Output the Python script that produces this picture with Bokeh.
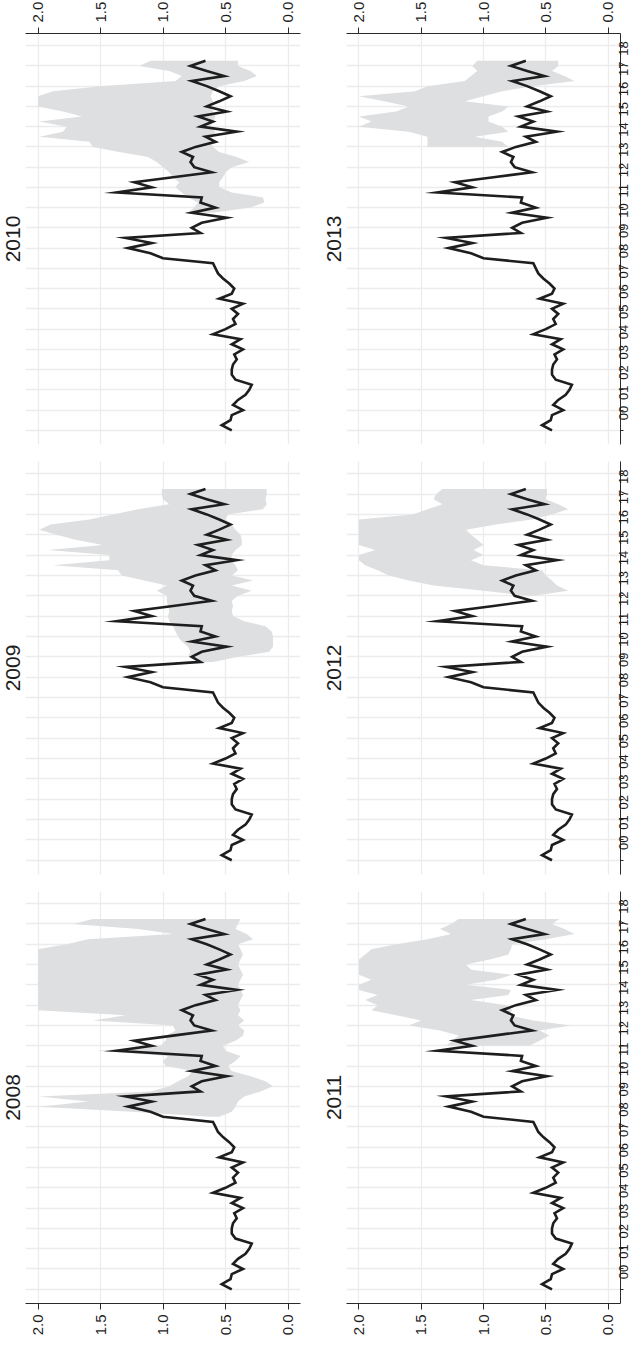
import math
from bokeh.plotting import figure
from bokeh.models import FixedTicker, LinearAxis, Range1d, PrintfTickFormatter, CustomJSTickFormatter
from bokeh.layouts import column, row
from bokeh.embed import file_html
from bokeh.resources import INLINE

# ---------------- data ----------------
line_start = 2000.0
line_values = [
    0.45, 0.53, 0.46, 0.45,
    0.36, 0.44, 0.40, 0.34,
    0.31, 0.29, 0.42, 0.45,
    0.45, 0.44, 0.41, 0.43,
    0.36, 0.45, 0.38, 0.60,
    0.50, 0.42, 0.44, 0.40,
    0.45, 0.36, 0.55, 0.45,
    0.43, 0.47, 0.52, 0.56,
    0.58, 0.60, 1.00, 1.10,
    1.28, 1.09, 1.30, 0.70,
    0.77, 0.69, 0.49, 0.77,
    0.58, 0.70, 0.69, 1.37,
    1.09, 1.23, 0.92, 0.61,
    0.75, 0.78, 0.76, 0.85,
    0.74, 0.58, 0.66, 0.41,
    0.70, 0.60, 0.72, 0.49,
    0.65, 0.55, 0.46, 0.55,
    0.65, 0.77, 0.51, 0.65,
    0.78, 0.66,
]

panel_titles = ["2008", "2009", "2010", "2011", "2012", "2013"]
band_start = {"2008": 2008.5, "2009": 2009.75, "2010": 2010.75,
              "2011": 2012.0, "2012": 2013.0, "2013": 2014.0}

band_hi = {
    "2008": [0.62, 1.25, 1.99, 1.60, 1.99, 1.10, 0.95, 0.88, 0.80, 0.76,
             0.98, 1.00, 0.96, 1.53, 1.02, 0.98, 0.97, 0.90, 0.92, 1.56,
             1.30, 2.00, 2.00, 2.00, 2.00, 2.00, 2.00, 2.00, 2.00, 2.00,
             2.00, 2.00, 2.00, 2.00, 1.77, 1.60, 0.92, 1.20, 1.72, 1.56],
    "2009": [0.72, 0.80, 0.78, 0.80, 0.85, 0.88, 0.90, 0.92, 0.95, 0.96,
             0.95, 0.96, 0.97, 0.97, 1.05, 0.97, 1.15, 1.33, 1.36, 1.88,
             1.43, 1.43, 1.92, 1.48, 1.70, 1.85, 1.99, 1.90, 1.59, 1.40,
             1.20, 0.95, 1.00, 1.01, 1.01],
    "2010": [0.80, 0.75, 0.72, 0.80, 0.85, 0.90, 0.87, 0.92, 0.95, 1.00,
             1.05, 1.12, 1.35, 1.56, 1.59, 1.99, 1.80, 1.77, 1.99, 1.65,
             1.80, 2.00, 2.00, 2.00, 1.88, 1.50, 0.90, 0.85, 0.95, 1.19,
             1.10],
    "2011": [1.30, 1.25, 1.20, 1.35, 1.60, 1.50, 1.70, 1.90, 1.85, 1.95,
             1.85, 2.00, 2.00, 1.90, 2.00, 2.00, 2.00, 2.00, 1.95, 1.90,
             1.70, 1.45, 1.26, 1.35, 1.26, 1.20],
    "2012": [0.65, 1.00, 1.40, 1.60, 1.76, 1.85, 1.95, 2.00, 2.00, 1.87,
             2.00, 2.00, 2.00, 2.00, 2.00, 2.00, 1.57, 1.45, 1.33, 1.40,
             1.38, 1.33],
    "2013": [1.45, 1.45, 1.45, 1.60, 2.00, 1.90, 2.00, 1.70, 1.60, 1.80,
             2.00, 1.55, 1.45, 1.15, 1.10, 1.05, 1.09, 1.05],
}
band_lo = {
    "2008": [0.55, 0.45, 0.42, 0.40, 0.35, 0.22, 0.12, 0.18, 0.30, 0.45,
             0.48, 0.42, 0.38, 0.50, 0.52, 0.42, 0.36, 0.35, 0.40, 0.35,
             0.40, 0.38, 0.40, 0.38, 0.36, 0.38, 0.40, 0.38, 0.36, 0.38,
             0.40, 0.38, 0.36, 0.38, 0.40, 0.28, 0.33, 0.42, 0.40, 0.38],
    "2009": [0.60, 0.40, 0.15, 0.12, 0.12, 0.12, 0.13, 0.18, 0.35, 0.44,
             0.45, 0.44, 0.45, 0.40, 0.29, 0.45, 0.28, 0.45, 0.40, 0.42,
             0.45, 0.45, 0.42, 0.37, 0.37, 0.38, 0.42, 0.45, 0.50, 0.48,
             0.20, 0.17, 0.18, 0.17, 0.17],
    "2010": [0.60, 0.30, 0.19, 0.20, 0.45, 0.55, 0.55, 0.52, 0.50, 0.45,
             0.31, 0.41, 0.55, 0.60, 0.62, 0.60, 0.58, 0.62, 0.60, 0.58,
             0.60, 0.62, 0.60, 0.62, 0.60, 0.55, 0.35, 0.25, 0.30, 0.40,
             0.40],
    "2011": [0.63, 0.55, 0.47, 0.55, 0.30, 0.60, 0.80, 0.77, 0.82, 1.10,
             0.80, 0.78, 1.14, 0.90, 0.77, 1.10, 1.14, 0.95, 0.80, 0.78,
             0.77, 0.50, 0.27, 0.35, 0.45, 0.39],
    "2012": [0.60, 0.32, 0.41, 0.45, 0.50, 0.53, 1.00, 1.10, 1.00, 1.08,
             1.00, 1.05, 1.10, 1.14, 0.90, 0.61, 0.45, 0.32, 0.40, 0.50,
             0.49, 0.49],
    "2013": [0.80, 0.85, 1.07, 0.80, 0.85, 0.96, 0.96, 0.85, 0.80, 1.15,
             1.00, 0.85, 0.60, 0.27, 0.35, 0.45, 0.40, 0.40],
}

value_ticks = [0.0, 0.5, 1.0, 1.5, 2.0]
year_bounds = list(range(2000, 2020))
year_labels = ["00", "01", "02", "03", "04", "05", "06", "07", "08", "09",
               "10", "11", "12", "13", "14", "15", "16", "17", "18"]

# ---------------- styling ----------------
FONT = "Liberation Sans"
BAND = "#dedfe1"
GRID = "#ececec"
INK = "#1e1e1e"
AXIS = "#2a2a2a"

line_years = [line_start + 0.25 * i for i in range(len(line_values))]
label_pos = [y + 0.5 for y in year_bounds[:-1]]


def make_panel(name, col, pos):
    kw = dict(x_range=Range1d(2.1, -0.1), y_range=Range1d(1999.3, 2019.6),
              x_axis_location=None, y_axis_location=None,
              toolbar_location=None, output_backend="svg",
              title=name, title_location="left",
              outline_line_color=None,
              background_fill_color="white", border_fill_color="white")
    if col == 0:
        kw.update(width=321, min_border_left=37, min_border_right=9)
    else:
        kw.update(width=326, min_border_left=37, min_border_right=14)
    if pos == "top":
        kw.update(height=455, min_border_top=33, min_border_bottom=9)
    elif pos == "mid":
        kw.update(height=430, min_border_top=8, min_border_bottom=9)
    else:
        kw.update(height=455, min_border_top=8, min_border_bottom=34)
    p = figure(**kw)

    p.title.text_font = FONT
    p.title.text_font_size = "21px"
    p.title.text_font_style = "normal"
    p.title.text_color = INK
    p.title.align = "center"
    p.title.standoff = 11

    p.xgrid.ticker = FixedTicker(ticks=value_ticks)
    p.ygrid.ticker = FixedTicker(ticks=year_bounds)
    for g in (p.xgrid, p.ygrid):
        g.grid_line_color = GRID
        g.grid_line_width = 1.3

    s = band_start[name]
    by = [s + 0.25 * i for i in range(len(band_hi[name]))]
    p.harea(y=by, x1=band_lo[name], x2=band_hi[name], fill_color=BAND, fill_alpha=1.0)
    p.line(x=line_values, y=line_years, line_color=INK, line_width=2.6, line_join="miter")

    if pos in ("top", "bottom"):
        ax = LinearAxis(ticker=FixedTicker(ticks=value_ticks),
                        formatter=PrintfTickFormatter(format="%.1f"))
        ax.major_label_orientation = math.pi / 2
        ax.major_label_text_font = FONT
        ax.major_label_text_font_size = "15px"
        ax.major_label_text_color = INK
        ax.major_label_standoff = 5
        ax.major_tick_out = 6
        ax.major_tick_in = 0
        ax.minor_tick_out = 0
        ax.minor_tick_in = 0
        ax.axis_line_color = AXIS
        ax.major_tick_line_color = AXIS
        p.add_layout(ax, "above" if pos == "top" else "below")

    if col == 1:
        yax = LinearAxis(ticker=FixedTicker(ticks=label_pos, minor_ticks=year_bounds),
                         formatter=CustomJSTickFormatter(
                             args=dict(labels=year_labels, first=year_bounds[0]),
                             code="const i = Math.round(tick - 0.5 - first); return labels[i] || '';"))
        yax.major_label_orientation = math.pi / 2
        yax.major_label_text_font = FONT
        yax.major_label_text_font_size = "13px"
        yax.major_label_text_color = INK
        yax.major_label_standoff = 0
        yax.major_tick_out = 0
        yax.major_tick_in = 0
        yax.minor_tick_out = 3
        yax.minor_tick_in = 0
        yax.axis_line_color = AXIS
        yax.minor_tick_line_color = AXIS
        p.add_layout(yax, "right")
    return p


panels = {}
layout_spec = [("2010", 0, "top"), ("2013", 1, "top"),
               ("2009", 0, "mid"), ("2012", 1, "mid"),
               ("2008", 0, "bottom"), ("2011", 1, "bottom")]
for name, c, pos in layout_spec:
    panels[name] = make_panel(name, c, pos)

layout = column(
    row(panels["2010"], panels["2013"]),
    row(panels["2009"], panels["2012"]),
    row(panels["2008"], panels["2011"]),
    margin=(-2, 0, 0, -12),
)

open("out.html", "w").write(file_html(layout, INLINE))
